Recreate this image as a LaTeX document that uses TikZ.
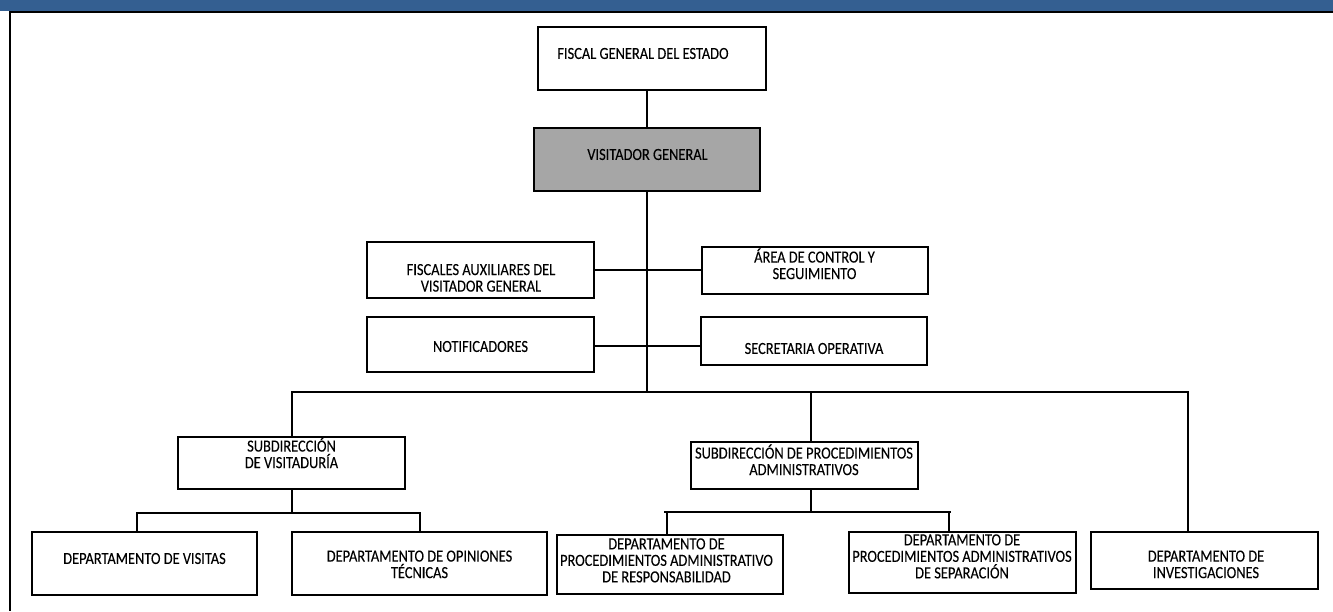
\documentclass[tikz,border=0pt]{standalone}
\usepackage{fontspec}
\setmainfont{Carlito}[FakeStretch=0.85,FakeBold=0.12]
\definecolor{hdr}{RGB}{52,95,145}
\definecolor{hilite}{RGB}{166,166,166}
\begin{document}
\begin{tikzpicture}[x=0.75pt,y=-0.75pt,
  box/.style={draw=black, line width=0.9pt, inner sep=0pt, rectangle},
  wh/.style 2 args={minimum width=#1*0.75pt, minimum height=#2*0.75pt},
  txt/.style={font=\fontsize{12.7pt}{12.4pt}\selectfont, align=center, inner sep=0pt},
  link/.style={line width=1.5pt},
  midlink/.style={line width=1.2pt},
  thinlink/.style={line width=0.8pt}]
\useasboundingbox (0,0) rectangle (1333,611);

% page header band and left rule
\fill[hdr] (0,0) rectangle (1333,11);
\draw[line width=1.5pt] (9.5,11.7) -- (1333,11.7);
\draw[line width=1.5pt] (10,11) -- (10,611);

% boxes
\node[box, wh={228}{63}] (fge) at (652,58.5) {};
\node[txt] (fge-t) at (643,53.5) {FISCAL GENERAL DEL ESTADO};

\node[box, wh={226}{63}, fill=hilite] (vg) at (647,159.5) {};
\node[txt] (vg-t) at (647.5,154.5) {VISITADOR GENERAL};

\node[box, wh={227}{56}] (fa) at (480.5,270) {};
\node[txt] (fa-t) at (481,280) {\strut FISCALES AUXILIARES DEL\\\strut VISITADOR GENERAL};

\node[box, wh={226}{47}] (ac) at (815,270.5) {};
\node[txt] (ac-t) at (814.5,267.5) {\strut\smash{ÁREA DE CONTROL Y}\\\strut SEGUIMIENTO};

\node[box, wh={227}{55}] (nt) at (480.5,344.5) {};
\node[txt] (nt-t) at (480.5,346.5) {NOTIFICADORES};

\node[box, wh={226}{48}] (so) at (814,341) {};
\node[txt] (so-t) at (814,348.5) {SECRETARIA OPERATIVA};

\node[box, wh={227}{52}] (sv) at (291.5,463) {};
\node[txt] (sv-t) at (291.5,456.5) {\strut\smash{SUBDIRECCIÓN}\\\strut\smash{DE VISITADURÍA}};

\node[box, wh={227}{47}] (sp) at (804.5,465.5) {};
\node[txt] (sp-t) at (804,463.5) {\strut\smash{SUBDIRECCIÓN DE PROCEDIMIENTOS}\\\strut ADMINISTRATIVOS};

\node[box, wh={225}{63}] (dv) at (144.5,563.5) {};
\node[txt] (dv-t) at (144.5,558.5) {DEPARTAMENTO DE VISITAS};

\node[box, wh={255}{63}] (dot) at (419.5,563.5) {};
\node[txt] (dot-t) at (419.5,566.5) {\strut DEPARTAMENTO DE OPINIONES\\\strut\smash{TÉCNICAS}};

\node[box, wh={226}{59}] (dr) at (670,564.5) {};
\node[txt] (dr-t) at (666.5,562.5) {\strut DEPARTAMENTO DE\\\strut PROCEDIMIENTOS ADMINISTRATIVO\\\strut DE RESPONSABILIDAD};

\node[box, wh={227}{61}] (ds) at (962.5,562.5) {};
\node[txt] (ds-t) at (962,558.5) {\strut DEPARTAMENTO DE\\\strut PROCEDIMIENTOS ADMINISTRATIVOS\\\strut\smash{DE SEPARACIÓN}};

\node[box, wh={227}{57}] (di) at (1204.5,560.5) {};
\node[txt] (di-t) at (1206,566.5) {\strut DEPARTAMENTO DE\\\strut INVESTIGACIONES};

% junction points
\coordinate (hub) at (647,392);
\coordinate (rowB) at (647,346);
\coordinate (busL) at (292,392);
\coordinate (busM) at (811,392);
\coordinate (busR) at (1188,392);
\coordinate (svL) at (137,513);
\coordinate (svR) at (420,513);
\coordinate (spL) at (664,512);
\coordinate (spR) at (951,512);
\coordinate (spDL) at (667,512);
\coordinate (spDR) at (949,512);

% connectors
\draw[thinlink] (vg.north) -- (vg.north |- fge.south);
\draw[thinlink] (vg.south) -- (hub);
\draw[midlink] (fa.east) -- (fa.east -| ac.west);
\draw[midlink] (rowB -| nt.east) -- (rowB -| so.west);

\draw[link] (sv.north -| busL) -- (busL) -- (busR) -- (busR |- di.north);
\draw[link] (busM) -- (busM |- sp.north);

\draw[link] (sv.south) -- (sv.south |- svL);
\draw[link] (svL |- dv.north) -- (svL) -- (svR) -- (svR |- dot.north);

\draw[link] (busM |- sp.south) -- (busM |- spL);
\draw[link] (spL) -- (spR);
\draw[link] (spDL) -- (spDL |- dr.north);
\draw[link] (spDR) -- (spDR |- ds.north);
\end{tikzpicture}
\end{document}
